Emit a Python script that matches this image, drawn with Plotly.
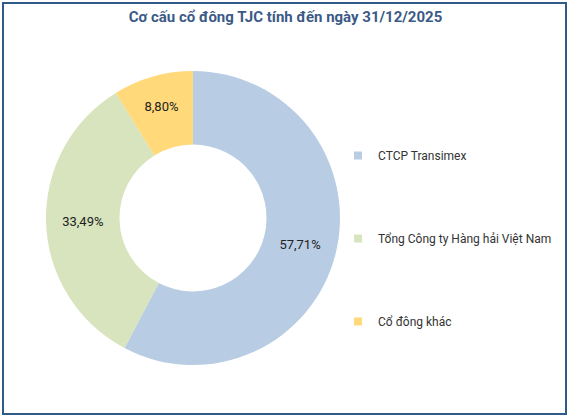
import plotly.graph_objects as go

labels = ["CTCP Transimex", "Tổng Công ty Hàng hải Việt Nam", "Cổ đông khác"]
values = [57.71, 33.49, 8.80]
colors = ["#B8CCE4", "#D7E4BD", "#FFD97A"]
title_text = "Cơ cấu cổ đông TJC tính đến ngày 31/12/2025"

FONT = "Roboto, sans-serif"

text_labels = [f"{v:.2f}%".replace(".", ",") for v in values]

fig = go.Figure()
fig.add_trace(go.Pie(
    labels=labels, values=values, text=text_labels,
    textinfo="text", textposition="inside", insidetextorientation="horizontal",
    hole=0.5, sort=False, direction="clockwise", rotation=0,
    marker=dict(colors=colors, line=dict(width=0)),
    textfont=dict(family=FONT, size=13, color="#222222"),
    domain=dict(x=[46/571, 340/571], y=[1-365/420, 1-71/420]),
    showlegend=False, hoverinfo="skip",
))
for i, (lab, col) in enumerate(zip(labels, colors)):
    fig.add_trace(go.Scatter(
        x=[None], y=[None], mode="markers", name=lab,
        marker=dict(symbol="square", size=8, color=col),
        legendgroup=f"g{i}", showlegend=True,
    ))

fig.update_layout(
    width=571, height=420,
    margin=dict(l=0, r=0, t=0, b=0, autoexpand=False),
    paper_bgcolor="white", plot_bgcolor="white",
    xaxis=dict(visible=False), yaxis=dict(visible=False),
    title=dict(text=f"<b>{title_text}</b>", x=0.5, xanchor="center", y=1-17/420, yanchor="middle",
               font=dict(family=FONT, size=15, color="#3B5A86")),
    legend=dict(x=338/571, y=1-141/420, xanchor="left", yanchor="top",
                font=dict(family=FONT, size=12, color="#333333"),
                tracegroupgap=64, itemwidth=30, bgcolor="rgba(0,0,0,0)"),
    shapes=[dict(type="rect", xref="paper", yref="paper",
                 x0=3/571, x1=566/571, y0=1-414/420, y1=1-3/420,
                 line=dict(color="#2F5B88", width=2), fillcolor="rgba(0,0,0,0)")],
)
fig.write_html("out.html", config={"displayModeBar": False},
               post_script="document.body.style.margin='0';document.body.style.overflow='hidden';")
